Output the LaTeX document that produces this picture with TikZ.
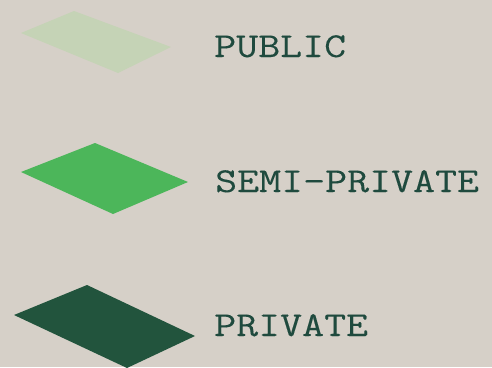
\documentclass[tikz,border=0pt]{standalone}
\usepackage{fontspec}
\newfontfamily\legendfont{Latin Modern Mono}[FakeStretch=1.22, FakeBold=0.15]
\definecolor{bgcol}{HTML}{D6D0C8}
\definecolor{publiccol}{HTML}{C5D3B6}
\definecolor{semicol}{HTML}{4CB65A}
\definecolor{privatecol}{HTML}{22543D}
\definecolor{labelcol}{HTML}{1F4A3E}
\tikzset{
  legendlabel/.style={anchor=base west, inner sep=0pt, text=labelcol,
    font=\legendfont\fontsize{35}{35}\selectfont},
  tile/.style={draw=none}
}
\begin{document}
\begin{tikzpicture}[x=1pt, y=-1pt]
        % Background
        \fill[bgcol] (0,0) rectangle (492,367);
        \useasboundingbox (0,0) rectangle (492,367);

        % Draw the zone tiles
        \fill[tile, publiccol] (21,33) -- (74,11) -- (171,47) -- (118,73) -- cycle;
        \fill[tile, semicol] (21,172) -- (95,143) -- (188,182) -- (113,214) -- cycle;
        \fill[tile, privatecol] (14,315) -- (87,285) -- (195,336) -- (127,368) -- cycle;

        % Add labels
        \node[legendlabel] (publiclabel) at (214,57) {PUBLIC};
        \node[legendlabel] (semilabel) at (215,192) {SEMI-PRIVATE};
        \node[legendlabel] (privatelabel) at (214,336) {PRIVATE};
    \end{tikzpicture}
\end{document}
